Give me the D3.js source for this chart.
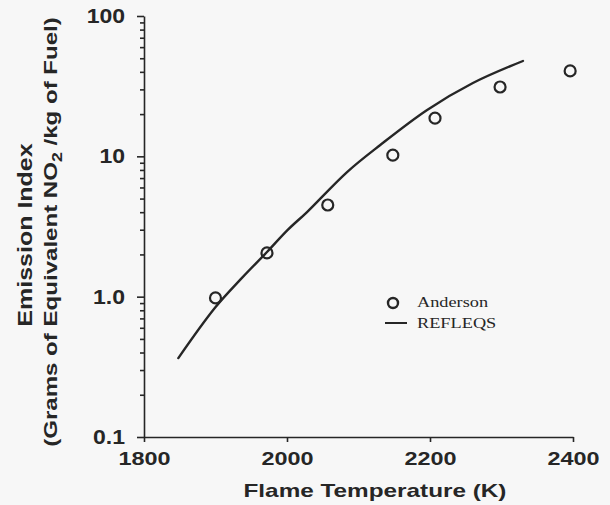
<!DOCTYPE html>
<html>
<head>
<meta charset="utf-8">
<script src="https://cdn.jsdelivr.net/npm/d3@7/dist/d3.min.js"></script>
<style>
  html, body { margin: 0; padding: 0; background: #f7f7f7; }
  svg { display: block; }
</style>
</head>
<body>
<div id="chart"></div>
<script>
// ---- data ----
const xTicks = [1800, 2000, 2200, 2400];
const xTickLabels = ["1800", "2000", "2200", "2400"];
const yTicks = [0.1, 1, 10, 100];
const yTickLabels = ["0.1", "1.0", "10", "100"];

// Anderson (measured points)
const andersonT = [1900, 1972, 2057, 2148, 2207, 2298, 2396];
const andersonEI = [0.98, 2.05, 4.5, 10.2, 18.7, 31.2, 40.6];

// REFLEQS (computed curve)
const refleqsT = [1848, 1899, 1937, 1972, 2001, 2028, 2084, 2130, 2196, 2260, 2330];
const refleqsEI = [0.365, 0.83, 1.36, 2.08, 2.99, 4.01, 7.73, 12.0, 21.4, 33.3, 47.8];

const legendLabels = ["Anderson", "REFLEQS"];

// ---- drawing ----
const W = 610, H = 505;
const ink = "#262626";
const svg = d3.select("#chart").append("svg").attr("width", W).attr("height", H);

const x = d3.scaleLinear().domain([1800, 2400]).range([144, 573]);
const y = d3.scaleLog().domain([0.1, 100]).range([437, 16]);

const sans = "'Liberation Sans', Arial, Helvetica, sans-serif";
const serif = "'Liberation Serif', 'Times New Roman', serif";

// stretch helper: horizontally scale text about its anchor point
function stretch(sel, k) {
  sel.each(function () {
    const t = d3.select(this);
    const tx = +t.attr("x") || 0;
    const ty = +t.attr("y") || 0;
    t.attr("x", 0).attr("y", 0)
     .attr("transform", `translate(${tx},${ty}) scale(${k},1)`);
  });
}

// Y axis (major)
const yAxisG = svg.append("g").attr("transform", `translate(${x(1800)},0)`)
  .call(d3.axisLeft(y).tickValues(yTicks)
    .tickFormat((d, i) => yTickLabels[i]).tickSize(7).tickPadding(12).tickSizeOuter(0));
// Y minor ticks
const minor = [];
for (let dec = 0.1; dec < 100; dec *= 10) {
  for (let m = 2; m <= 9; m++) minor.push(+(dec * m).toPrecision(3));
}
svg.append("g").attr("transform", `translate(${x(1800)},0)`)
  .call(d3.axisLeft(y).tickValues(minor).tickFormat("").tickSize(4).tickSizeOuter(0))
  .call(g => g.select(".domain").remove());

// X axis
const xAxisG = svg.append("g").attr("transform", `translate(0,${y(0.1)})`)
  .call(d3.axisBottom(x).tickValues(xTicks)
    .tickFormat((d, i) => xTickLabels[i]).tickSize(5).tickPadding(10).tickSizeOuter(0));

svg.selectAll(".domain, .tick line").attr("stroke", ink).attr("stroke-width", 1.6);

yAxisG.selectAll("text").attr("font-family", sans).attr("font-size", 20)
  .attr("font-weight", "bold").attr("fill", ink);
stretch(yAxisG.selectAll("text"), 1.15);

xAxisG.selectAll("text").attr("font-family", sans).attr("font-size", 18)
  .attr("font-weight", "bold").attr("fill", ink);
xAxisG.selectAll("text").each(function () {
  const t = d3.select(this);
  t.attr("y", 27.8).attr("dy", null);
});
stretch(xAxisG.selectAll("text"), 1.3);

// X title
svg.append("text")
  .attr("transform", "translate(375,497) scale(1.28,1)")
  .attr("text-anchor", "middle")
  .attr("font-family", sans).attr("font-size", 19).attr("font-weight", "bold").attr("fill", ink)
  .text("Flame Temperature (K)");

// Y title (two lines)
svg.append("text")
  .attr("transform", "translate(32,235) rotate(-90) scale(1.25,1)")
  .attr("text-anchor", "middle")
  .attr("font-family", sans).attr("font-size", 20).attr("font-weight", "bold").attr("fill", ink)
  .text("Emission Index");

const yt2 = svg.append("text")
  .attr("text-anchor", "middle")
  .attr("font-family", sans).attr("font-size", 19).attr("font-weight", "bold").attr("fill", ink);
yt2.append("tspan").text("(Grams of Equivalent NO");
yt2.append("tspan").attr("font-size", 14).attr("dy", 5).text("2");
yt2.append("tspan").attr("dy", -5).text(" /kg of Fuel)");
const natural = yt2.node().getComputedTextLength();
yt2.attr("transform", `translate(57,232) rotate(-90) scale(${430 / natural},1)`);

// REFLEQS line
const lineData = refleqsT.map((t, i) => [t, refleqsEI[i]]);
svg.append("path")
  .datum(lineData)
  .attr("fill", "none")
  .attr("stroke", ink)
  .attr("stroke-width", 2.4)
  .attr("stroke-linecap", "round")
  .attr("d", d3.line().x(d => x(d[0])).y(d => y(d[1])).curve(d3.curveCatmullRom.alpha(0.5)));

// Anderson points
svg.append("g").selectAll("circle")
  .data(andersonT.map((t, i) => [t, andersonEI[i]]))
  .join("circle")
  .attr("cx", d => x(d[0])).attr("cy", d => y(d[1]))
  .attr("r", 5.5)
  .attr("fill", "none").attr("stroke", ink).attr("stroke-width", 2.2);

// Legend
const lg = svg.append("g");
lg.append("circle").attr("cx", 393).attr("cy", 303).attr("r", 5)
  .attr("fill", "none").attr("stroke", ink).attr("stroke-width", 2.4);
lg.append("line").attr("x1", 385).attr("x2", 407).attr("y1", 323).attr("y2", 323)
  .attr("stroke", ink).attr("stroke-width", 2);
lg.selectAll("text.lgt")
  .data(legendLabels)
  .join("text")
  .attr("class", "lgt")
  .attr("transform", (d, i) => `translate(417,${307 + i * 21}) scale(1.22,1)`)
  .attr("font-family", serif).attr("font-size", 15).attr("fill", ink)
  .text(d => d);
</script>
</body>
</html>
